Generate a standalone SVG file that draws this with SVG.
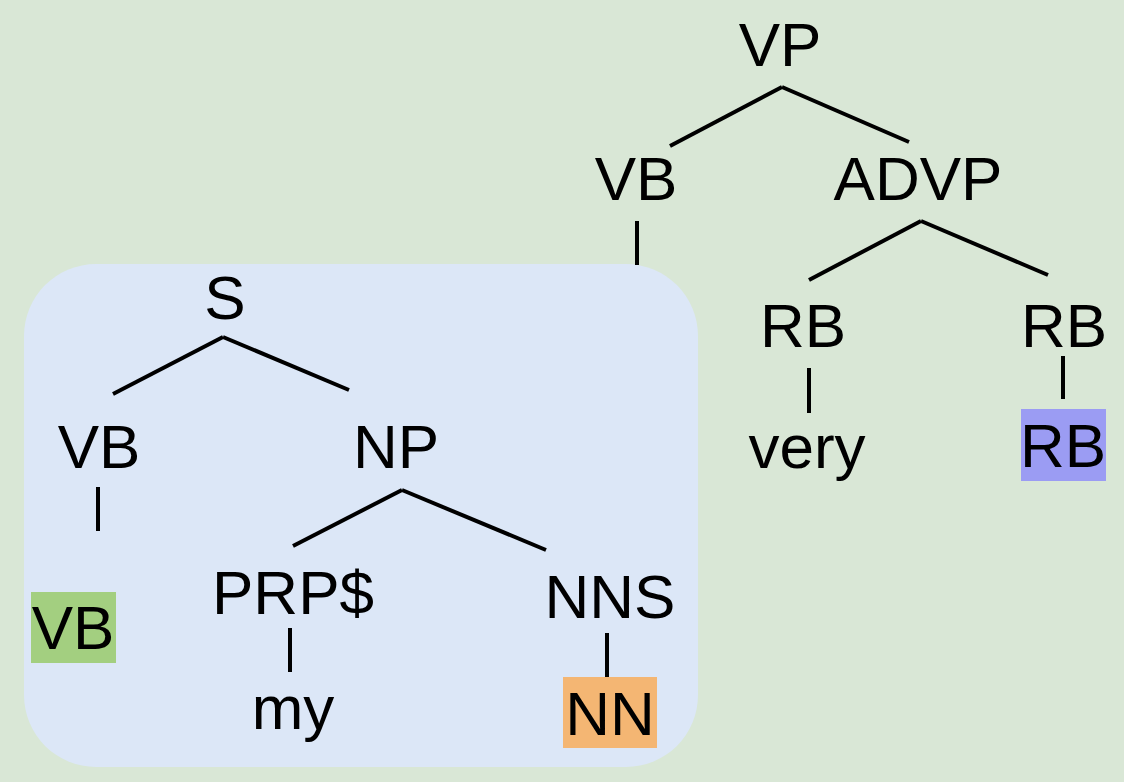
<svg xmlns="http://www.w3.org/2000/svg" width="1124" height="782" viewBox="0 0 1124 782">
<style>
text{font-family:"Liberation Sans",Arial,sans-serif;font-size:62px;fill:#000;text-anchor:middle}
.e{stroke:#000;stroke-width:4;fill:none}
</style>
<rect width="1124" height="782" fill="#d9e7d6"/>
<rect id="scope" x="24" y="264" width="674" height="503" rx="72" ry="72" fill="#dce7f7"/>
<g id="connectors">
<line class="e" x1="782" y1="87" x2="670" y2="146"/>
<line class="e" x1="782" y1="87" x2="909" y2="142"/>
<line class="e" x1="637" y1="221" x2="637" y2="265"/>
<line class="e" x1="921" y1="221" x2="809" y2="280"/>
<line class="e" x1="921" y1="221" x2="1048" y2="275"/>
<line class="e" x1="809" y1="368" x2="809" y2="413"/>
<line class="e" x1="1063" y1="356" x2="1063" y2="399"/>
<line class="e" x1="223" y1="337" x2="113" y2="394"/>
<line class="e" x1="223" y1="337" x2="349" y2="390"/>
<line class="e" x1="98" y1="487" x2="98" y2="531"/>
<line class="e" x1="402" y1="490" x2="293" y2="546"/>
<line class="e" x1="402" y1="490" x2="546" y2="550"/>
<line class="e" x1="290" y1="628" x2="290" y2="672"/>
<line class="e" x1="607" y1="633" x2="607" y2="677"/>
</g>
<g id="n-VP"><text x="780" y="66">VP</text></g>
<g id="n-VB-top"><text x="636" y="200">VB</text></g>
<g id="n-ADVP"><text x="918" y="200">ADVP</text></g>
<g id="n-RB1"><text x="803" y="347">RB</text></g>
<g id="n-RB2"><text x="1064" y="347">RB</text></g>
<g id="n-very"><text x="807" y="468">very</text></g>
<g id="n-RB-leaf"><rect x="1021" y="409" width="85" height="72" fill="#9b9cf3"/><text x="1063" y="467">RB</text></g>
<g id="n-S"><text x="225" y="319">S</text></g>
<g id="n-VB"><text x="99" y="468">VB</text></g>
<g id="n-VB-leaf"><rect x="31" y="592" width="85" height="71" fill="#a3cf80"/><text x="73" y="649">VB</text></g>
<g id="n-NP"><text x="396" y="468">NP</text></g>
<g id="n-PRP"><text x="293" y="614">PRP$</text></g>
<g id="n-my"><text x="293" y="729">my</text></g>
<g id="n-NNS"><text x="610" y="618">NNS</text></g>
<g id="n-NN-leaf"><rect x="563" y="677" width="94" height="71" fill="#f4b673"/><text x="610" y="735">NN</text></g>
</svg>
